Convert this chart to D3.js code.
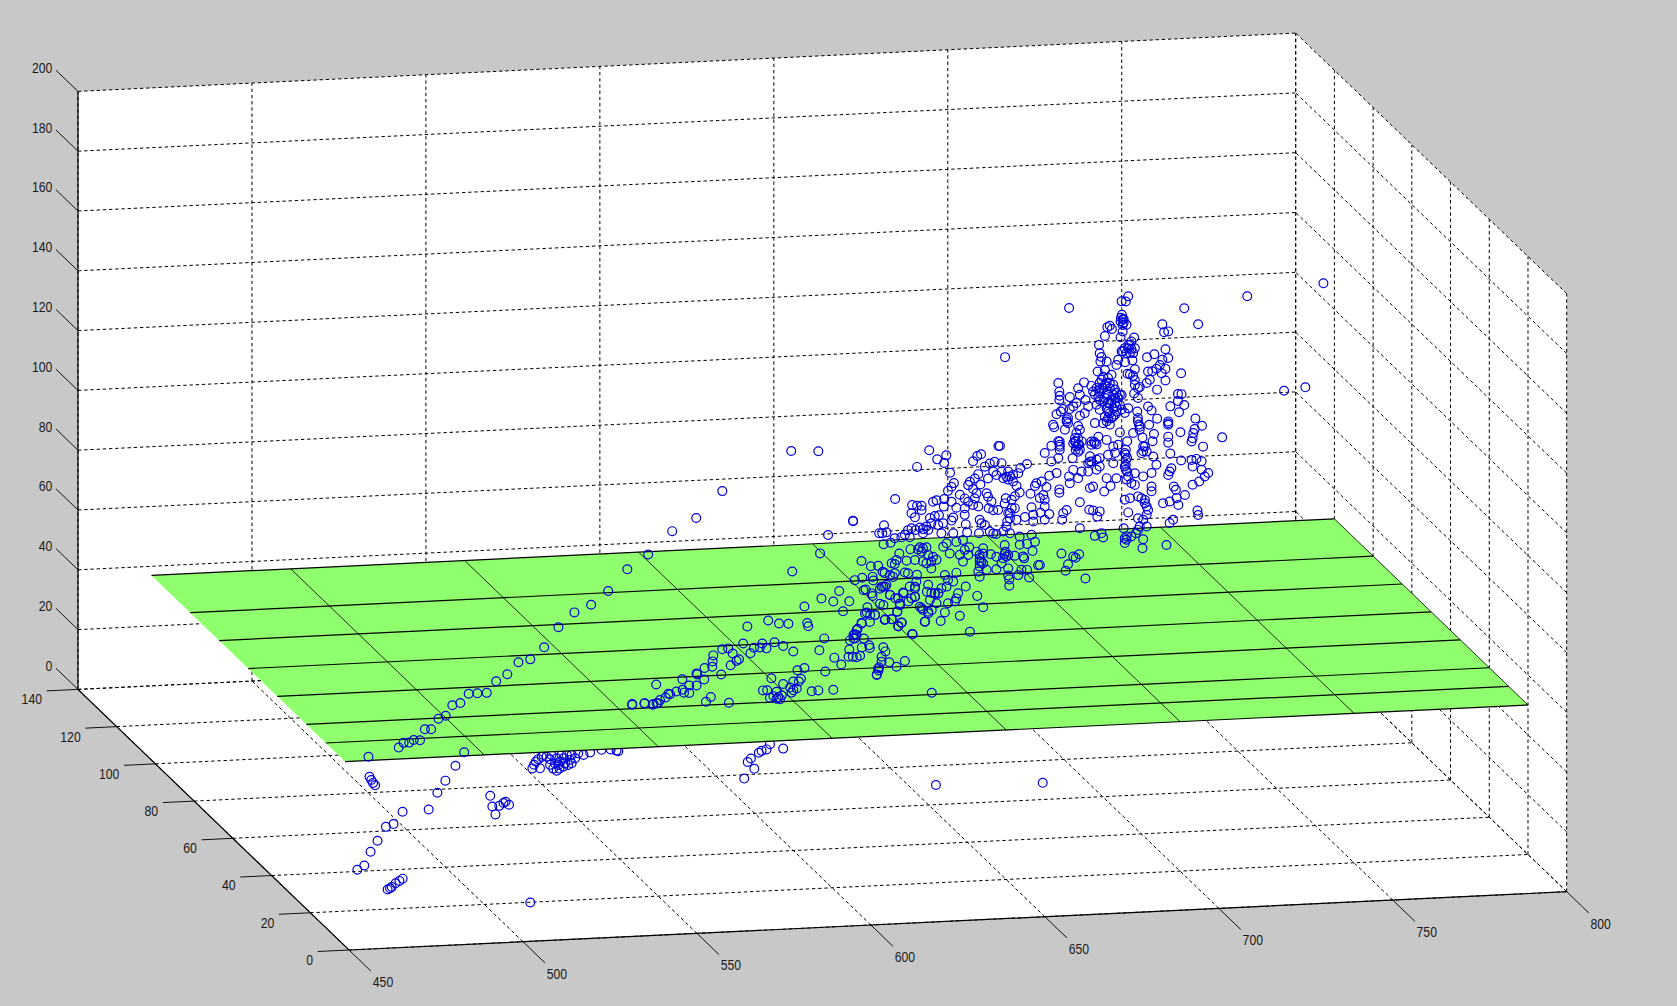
<!DOCTYPE html>
<html>
<head>
<meta charset="utf-8">
<title>scatter3</title>
<script src="https://d3js.org/d3.v7.min.js"></script>
<style>
    html, body { margin: 0; padding: 0; background: #c8c8c8; overflow: hidden; }
    svg { display: block; }
    text { font-family: "Liberation Sans", sans-serif; font-size: 15px; fill: #1a1a1a; }
</style>
</head>
<body>
<div id="chart"></div>
<script>
// axis ticks
const xTicks = [450, 500, 550, 600, 650, 700, 750, 800];
const yTicks = [0, 20, 40, 60, 80, 100, 120, 140];
const zTicks = [0, 20, 40, 60, 80, 100, 120, 140, 160, 180, 200];

// green plane
const planeZ = 50;
const planeXs = [460, 500, 550, 600, 650, 700, 750, 800];
const planeYs = [20, 30, 40, 55, 70, 85, 100, 120];

// depth the scatter is read at (the picture only gives two of the three values)
const lowerDepth = 0;
const cloudDepth = 20;

// [x, z] under the plane
const hiddenSidePoints = [
    [455.9,57.6],[456.4,56.5],[456.9,55.5],[457.5,54.7],[480.6,59.9],[477.7,55.1],[475.4,51.2],[472.9,45.7],
    [465.4,45.4],[462.8,41.4],[460.6,40.6],[458.2,36.1],[456.2,32.5],[454.4,28],[452.4,26.7],[490.6,49.3],
    [491.2,45.7],[492.1,43],[493.2,45.8],[494.4,46.7],[495,47.1],[496,46],[465.4,23],[464.5,22.3],[463.4,21.6],
    [462.3,20.4],[461.8,20],[461.1,19.6],[502.1,13],[502.7,57.8],[503.2,59],[503.7,60],[504.4,60.8],[505.4,61.5],
    [504.9,57.7],[507.8,58.7],[508.7,57.4],[509.7,56.6],[510.5,57.3],[509.2,59.1],[510.6,59.6],[512.1,59],[513,58.4],
    [514,58.9],[511.6,60.7],[509.7,60.8],[507.8,60.6],[506.8,61.5],[515,60.5],[517.4,61.5],[505.9,62.1],[511.1,61.8],
    [512.6,61.7],[514,61.7],[515.9,62.1],[519.3,62.2],[522.6,62.9],[526.9,62.4],[513.5,60],[508.2,62],[510.2,58.5],
    [511.6,57.9],[574.8,60.4],[570,60.4],[568.6,60],[567.8,59.4],[565.5,57.6],[564.6,56.5],[566.5,54.1],[563.6,51],
    [571,62.1],[527.4,62.2],[525.2,62.9],[618.7,45.8],[649.4,44.8]
];

// [x, z] over the plane, lower part of the swarm
const lowerPoints = [
    [536,127.5],[530,122.9],[524.5,115.9],[519.6,111.6],[514.8,109.3],[510.2,104.6],[506.1,98.1],[502.1,94.3],
    [498.7,93.5],[495.5,89.7],[492.3,87.5],[489.6,83.8],[486.9,83.8],[484.4,83.8],[482,80.8],[479.7,80.2],[477.8,76.8],
    [475.7,75.9],[473.6,72.5],[471.8,72.6],[470.4,69],[483.1,64.3],[538.3,83.9],[531.4,77.7],[535,77.8],[537.5,77.4],
    [538.8,77.6],[455.6,64.3],[464.3,66.9],[465.7,68.4],[467.3,68.4],[468.6,69.2],[577.4,119.5],[595.4,115.6],
    [597.5,116.3],[600.5,116.4],[597.3,121.9],[600,120],[590.9,112.2],[585.8,110],[589.2,108.8],[593.8,108.6],
    [598.5,112.3],[600.5,110],[580.9,107.6],[592,105.4],[599,106.3],[598.8,104.6],[601.2,103.6],[570.5,103.5],
    [573.6,102.3],[576.3,102.1],[581.7,102],[582,100.9],[564.5,101.8],[599.7,101.4],[597.3,101.2],[596.2,99.3],
    [595.4,97.5],[595,96.1],[595.9,97.2],[586.6,96.6],[598,95.9],[563.3,96.2],[568.8,95.9],[572.3,96.1],[574.8,94.7],
    [566.4,94.6],[568.1,94.6],[570,94.2],[577.7,92.7],[585.2,92.7],[593.8,92.5],[597.4,93],[599.5,93.6],[599.7,92.7],
    [557.3,94.6],[559,94.8],[560.3,93],[565.4,92.8],[554.7,92.7],[554.5,90.7],[554.4,88.9],[552.2,88.6],[562.1,91],
    [561.4,90.5],[559.7,89.1],[589.5,90],[593.6,90.1],[594.8,90],[595.9,89.8],[596.9,90.2],[591.5,87.6],[578.9,86.4],
    [580.9,87],[586.9,85.5],[601.7,83.7],[602.1,85.7],[549.9,86.9],[550.1,86.6],[557,86.2],[545.8,85.2],[552.1,84.8],
    [571.4,84.1],[579.9,83.5],[579.3,82.6],[577.7,82.7],[574.8,82],[547.8,83],[549.9,82.9],[545.9,81.7],[544.1,81.2],
    [547.8,80.5],[546.3,80.7],[542.3,80.4],[541.8,80.6],[569,80.2],[570.2,80.2],[572.9,79.5],[576.8,80.7],[578.7,80.3],
    [577.7,79.8],[577.2,79],[583,79.1],[584.9,79.3],[589.2,79.3],[539.4,78.6],[541,79.4],[538.4,77.6],[537.3,77.2],
    [534.9,77.7],[531.4,77.5],[554,78.8],[552.6,77.3],[571,77.6],[573.9,77],[572.9,77.2],[573.4,77.7],[572,78.1],
    [574.4,78.2],[559.2,76.6],[601.7,83.5],[602.2,85],[617.5,76.7],[595,97.3],[595.9,98.9],[597.4,101],[598.3,104.3],
    [599.8,103.7],[601.2,103.6],[595.5,96.1],[594,95.6],[603.6,106.8],[602.6,107.3],[604.1,102],[606,101.9],[607.9,99.6],
    [608.9,100.6],[612,96.6],[607.6,104.4],[614.6,105.1],[616.5,103.3],[615.6,100.6],[617.5,104.4],[619.4,109.8],
    [618.4,109.8],[616.1,110.6],[608.4,106.5],[610.8,107.6],[609.4,110.4],[607,108.9],[605.5,110.1],[604.1,113],
    [602.6,112.3],[600.2,110.9],[597.9,112.1],[612.7,109.1],[612.7,112.4],[577.1,159.8],[584.9,159.3],[557.3,147.5],
    [549.8,138.9],[542.9,134.9],[594.9,135.3],[587.7,131.1],[585.4,125.1],[602.1,120],[602.4,130.9],[600.7,115.2]
];

// [x, z] over the plane, the main cloud
const cloudPoints = [
    [741.2,194.3],[736,159.8],[729.9,159],[719.3,191.2],[685.1,193.1],[684.4,191.4],[683.2,191.5],[668.1,190.1],
    [701.2,188.2],[683.3,187],[683.5,185.5],[682.9,184.8],[683.8,184.4],[684.6,183.6],[679.8,183.5],[679.1,183.1],
    [680.4,182.4],[694.9,183.2],[705.2,182.6],[695.4,180.5],[696.6,180.7],[683.5,181.4],[678.4,180.2],[682.9,179.5],
    [686.8,179.2],[686,177.9],[685.1,176.8],[684.1,175.8],[686,175.4],[684.6,174.1],[683.2,174.8],[676.7,177.3],
    [676.9,174.5],[677.4,173.2],[677.1,171.7],[678.9,171.6],[682.2,172],[681.7,170.3],[684.2,171.1],[686.3,171.6],
    [649.7,174.7],[690.5,172.4],[692.6,173.3],[695.8,174.8],[696.6,171.8],[694.9,171.3],[694.2,169.6],[687,168.6],
    [676.3,168.4],[678.4,168.8],[680.3,167.1],[690.8,167.6],[692,167.6],[693.2,168.4],[695.8,168.2],[694.7,166.8],
    [695.8,164.3],[700.3,166.5],[685.6,167],[686.5,166.4],[684.9,167.2],[687,165],[691.3,164.8],[690.4,163.8],
    [687,163.3],[687.9,162.2],[688.4,162.6],[693.4,161.4],[687.9,158.9],[686.8,160.5],
    [677.9,166.6],[679.3,166.1],[676.9,164.5],[678.9,164.4],[680.8,163.7],[676,162.9],[677.9,162.7],[679.8,162.6],
    [681.3,162.1],[675,161.8],[676.9,161.1],[678.9,161],[680.8,160.4],[682.7,160.3],[676.5,160],[678.4,159.4],
    [680.3,158.7],[682.2,159.2],[679.3,157.7],[681.3,157.6],[678.9,156],[680.8,155.9],[682.7,156.9],[679.8,154.3],
    [681.7,154.7],[678.4,153.2],[680.3,152.6],[681.3,153.7],[678.9,151.6],[679.8,150.4],[677.9,151],[684.1,154.1],
    [683.2,155.3],[685.1,155.6],
    [665,165.2],[665.3,162.3],[665.4,160.9],[665.3,159.5],[672.4,165],[670.7,163.1],[671.2,160.9],[674.5,163.7],
    [668.3,160.3],[672.8,159.1],[670.2,158.2],[669.3,157.1],[666.4,156.4],[665.7,155.6],[664.5,154.8],[668.3,156.3],
    [667.4,152.9],[667.8,151.6],[663.5,151.3],[663.8,150.5],[673.6,156.9],[676,157.3],[676.9,155.6],[672.6,154.7],
    [671.2,153.9],[675.5,151.2],[670.7,150.5],[666.9,149.5],[670.2,148.2],[671.2,149.2],[665,145.7],[665.4,144.5],
    [663,144.3],[661.1,142],[665.4,142.8],[665,140.1],[663,139.1],[669.8,146.5],[669.3,144.8],[670.2,143.7],
    [671.7,145.3],[670.7,141.9],[669.1,139.8],[670,145.4],[671,144.2],
    [675.5,144.5],[674.5,144],[676.5,146.6],[678.9,145.4],[682.7,147.7],[686.5,147.3],[689.2,145.6],[684.8,144.6],
    [682.2,143.6],[680.8,143.1],[676.9,139.4],[674.5,138.4],[673.6,137.9],[674.1,140.2],[679.3,140.4],[681.3,140.9],
    [680.8,137.5],[676.9,136.6],[676,135.6],[673.6,135.1],[671.7,135.2],[669.3,135.9],[670.7,133],[668.1,133.8],
    [668.3,131.5],[664.5,135.1],[662.4,134.3],[660.2,132.5],[658.7,132],[658.3,131.1],[661.6,130.6],[665.3,129.6],
    [665.3,128.5],[657,128.6],[660.7,128],[661.1,126.4],[659.7,127],[674.1,129.6],[675,130],[678.2,128.2],[680,129.9],
    [678.9,132.6],[681.7,132.4],
    [684.4,141.8],[684.4,140.1],[684.4,138.4],[684.4,136.8],[684.4,135.1],[685.1,132.8],[686,130.5],[684.6,131.8],
    [687,129.9],[687,133.8],[689.4,132.6],[691.8,133.6],[687.7,154.4],[687.9,152.2],[688.2,150],[688.4,148.3],
    [690.8,155.9],[691.8,154.5],[693.4,151.7],[691.1,149.8],[692.5,146.6],[692.1,144.2],[689.4,142.6],[688.9,140.4],
    [690.4,140.9],[692.3,139.1],[693.2,136.3],[697.2,139.8],
    [697.2,155.6],[699.4,159.6],[700.4,159.5],[699.4,157.3],[701.2,155.8],[699.7,153.5],[696.6,150.6],[696.6,149.5],
    [696.6,145.5],[696.6,143.5],[700.1,146.8],[704.4,151.1],[706.3,148.6],[704.2,147.6],[703.8,146.3],[703.6,144.6],
    [703.3,143.5],[706.6,141.6],[712.1,144.4],[700.3,137.3],[704.7,137.6],[706.2,136.7],[703.3,137.3],[703.6,135.1],
    [706.2,133.9],[708.1,132.7],[707.1,131.6],[705.5,130],[703.6,129],[697.5,134.9],[697,133.8],[696.6,132.7],
    [698.2,128.7],[698.8,127.6],[701.4,125.7],[699,124.8],[697,123.8],[695.1,123.3],[699.5,122.5],[705,120.3],
    [705.2,118.8],[698,117.6],[697,116.6],
    [691.8,129.1],[691.8,127.5],[687.9,126],[688.9,125.3],[689.9,123.6],[690.8,121.3],[690.4,119.7],[684.1,125.1],
    [685.6,125.5],[685.1,120.8],[673.9,122.3],[675,122],[676.9,121.6],[676.2,119.9],[671.2,125],[667.4,122.6],
    [666.4,121.6],[666.1,119.4],[671.2,116.3],[687.9,118.7],[689.4,118.1],[688.4,115.9],[690.4,115.8],[687.3,113.7],
    [686,112.7],[684.6,111.7],[684.1,110.6],[677.4,114.3],[675.5,113.5],[677.9,112.8],[689.4,111.6],[683.8,115.6],
    [696.1,109.3],[689.2,108.6],
    [656,138.6],[654.1,137.4],[653.5,135.7],[652,135.2],[650.6,136.4],[648.7,139.3],[648.7,136.5],[649.2,134.2],
    [650.6,133.7],[652,133],[653,131.4],[653.9,129.2],[652.5,128],[651.6,126.9],[649.9,127.5],[649.6,125.8],[651.6,124.1],
    [652.5,124],[650.6,122.5],[651.1,120.7],[650.3,119.7],[655.4,120.9],[657.3,124.1],[657.8,121.5],[659.9,122.1],
    [661.1,124.1],[662.4,121.5],[661.1,119.7],[657.8,119.3],[653,120.1],[650.1,118],[649.2,116.4],[651.1,115.7],
    [653.9,114.5],[656,111.9],[657.3,114.9],[658.3,112.5],[653.9,111.7],[649.6,111.9],[648.2,145.1],
    [627.9,144.8],[630.2,141.6],[632.8,142.8],[632.2,140.3],[624.4,139.4],[633.9,136.9],[647.8,145.1],[642.8,142.6],
    [641.7,142.1],[640.5,140.4],[618.1,129],[606,122.4],[614.9,120.4],[614.4,117.8],[615.6,118],[635,133.4],[634.3,132.2],
    [633.3,130.9],[636.7,129.4],[630,127.9],[629,127.5],[632.2,128.2],[634.3,127.2],[635.7,125.1],[632.1,125.7],[623,126.7],
    [624.4,126.4],[625.7,126.3],[625.7,124.9],[623.8,122.6],[622.8,124],[628.1,122.1],[629.5,122.7],[630.7,122.9],
    [628.5,120.3],[627.1,119.3],[626.1,118.5],[625.2,119.1],[624,118.3],[622.8,119],[621.8,118.4],[620.9,116.9],[619.9,116.1],
    [622.3,116],[626.1,117.1],[627.6,118.1],[634.8,121.9],[634.3,120.9],[631.9,120.1],[630.5,119.6],[634.8,116.6],
    [631.4,116.8],[638.4,119.4],[638.1,122.6],[638.8,116.7],[642.2,116.2],
    [639.1,132.5],[639.6,133.6],[641,134.6],[642,136],[643.9,138.4],[645.3,139.4],[646.7,139.9],[646.3,136.6],[647.2,135.4],
    [644.8,134.4],[642.6,132.5],[640.5,131.1],[641.5,129.6],[644.4,129.5],[644.8,128.3],[645.8,126.6],[645,124.4],[646.3,123.7],
    [640.5,125.8],[639.1,126.9],[638.1,128.1],[638.1,124.8],[641,127.9],[642,125.2],[642.9,119.5],[643.9,118.9],[642.4,120.7],
    [647.7,123.7],[646.3,115.9],[645.3,116.6],[647.2,115.7],
    [614.8,114.1],[616.8,114.5],[618,115.9],[622.5,112],[619.3,110.7],[625.2,112.5],[626.1,112.1],[627.1,112.4],[624.7,111.8],
    [625.7,111],[627.6,109.8],[629,109.1],[630,108],[628.5,107.5],[627.1,107],[628.5,105.2],[626.1,107.7],[623.8,108.3],
    [621.4,108.2],[618.5,108.6],[618,107.3],[617.1,107.6],[614.5,104.9],[615.1,104.4],[616.6,103.7],[618,104.2],[617.5,103],
    [620.9,104.3],[621.8,104],[624.4,103.3],[624.2,101.1],[623.8,98.8],[622.3,99.5],[620.4,97.6],[616.6,97],[614.7,99.9],
    [615.6,100.5],[614.2,99.9],[619,95.8],[619.4,94],[622.8,95.6],[623.8,96],[625.2,92.6],[626.1,91.5],[627.6,90.8],[628.1,94.7],
    [629.5,96.9],[630.5,96.8],[628.5,97],[627.6,99.8],[630,93.5],[632.4,102.8],[633.3,101.1],[634.8,100.5],[635.7,103.4],
    [632.9,98.9],[631.4,98.4],[636.2,96.5],[635.7,94.8],[635.3,93.8],[633.3,93.3],[632.4,90.3],[631.2,87.5],[626.6,87.5],
    [636.7,88.9],[638.4,98.6],[641.7,95.3],[643.4,91.4],[639.6,83.4],[623,83.6],[619.9,87.6],[619,86.3],[617.1,88.9],[615.1,88.7],
    [618.7,91.3],[620.9,74.7],[618.5,72.9],[616.4,74.5],[614.7,79.6],[615.3,78.2],[614.2,76.5],[614.2,74.8],[613.5,73],
    [632.9,113.4],[631.9,112.3],[633.8,109.9],[635.7,113.7],[637.6,114.2],[636.7,109.3],[638.1,110.9],[639.4,111.7],[637.6,107],
    [639.1,109.1],[641.5,110.1],[643.4,111.1],[642.4,109],[642.4,107.9],[642.9,106.7],[642.4,105.1],[642,103.4],[642.4,101.7],
    [644.4,103.9],[643.4,109.4],[645.6,109],[647.2,108.1],[647.2,103.9],[649.8,109.6],[650.1,107.9],[649.1,107.5],[648.7,105.8],
    [650.6,104],[650.6,101.6],[650.9,100.3],[650.9,98.2],[653.5,101.6],[654.4,103.3],[652.5,108.1],[654.9,107.7],[655.2,107.1],
    [657.6,109.4],[656,103.2],[656.6,100.6],[659.2,104.6],[659.7,104.6],[665.9,108.1],[669.3,106.9],[671,107.6],[670,106.5],
    [667.8,104.4],[667.1,102.3],[672.8,99.4],[649.6,108.9],[650.6,108.5],[642.4,106.8],[643.4,106.1],
    // tighter knots of the cloud
    [677.4,165.6],[678.4,163.9],[679.8,164.3],[676.9,162.3],[675.5,160.7],[679.3,160.5],[681.7,160.9],[677.9,158.3],
    [681.3,159.2],[679.8,157.5],[681.7,156.4],[679.3,154.9],[680.8,153.1],[679.3,152.6],[676.9,158.9],[683.2,160.2],
    [685.1,175.7],[685.6,176.8],[687,175.6],[683.6,174.7],[685.6,174.1],[686.5,174],[683,186],[683.8,185.5],[683.5,183.6],
    [669.8,145.4],[670.7,146.4],[670,142.6],[671.2,142.5],[670.7,144.2],[684.1,140.7],[684.8,139],[684.1,136.2],[684.8,134.5],
    [675.3,145],[676,144],[674.5,145.1],[667.4,152.2],[667.8,153.3],[687.9,151.1],[688.4,149.3],[689.4,141],[689.9,142.6],
    [696.6,150],[690.4,122.5],[689.9,124.7],[687.9,114.8],[684.6,112.8],[684.1,112.2],[665.4,145.6],[665.4,143.9],
    [650.1,134.7],[651.1,134.7],[651.1,122.5],[674.1,138.4],[676,139]
];

let width = 1677, height = 1006;

// orthographic view: each data axis adds its own screen offset to the corner of x=450, y=0, z=0
let originX = 349, originY = 950;
let xAcross = d3.scaleLinear().domain([450, 800]).range([0, 1217.7]);
let xDown = d3.scaleLinear().domain([450, 800]).range([0, -58.3]);
let yAcross = d3.scaleLinear().domain([0, 140]).range([0, -271]);
let yDown = d3.scaleLinear().domain([0, 140]).range([0, -260.6]);
let zDown = d3.scaleLinear().domain([0, 200]).range([0, -598]);

function project(x, y, z) {
    return [originX + xAcross(x) + yAcross(y), originY + xDown(x) + yDown(y) + zDown(z)];
}

let line = d3.line();

let svg = d3.select("#chart").append("svg")
    .attr("width", width)
    .attr("height", height);

let xMin = xTicks[0], xMax = xTicks[xTicks.length - 1];
let yMin = yTicks[0], yMax = yTicks[yTicks.length - 1];
let zMin = zTicks[0], zMax = zTicks[zTicks.length - 1];

// white box
svg.append("path")
    .attr("d", line([
        project(xMin, yMax, zMax), project(xMax, yMax, zMax), project(xMax, yMin, zMax),
        project(xMax, yMin, zMin), project(xMin, yMin, zMin), project(xMin, yMax, zMin)
    ]) + "Z")
    .attr("fill", "white");

// dashed grid on the back wall, right wall and floor
let gridSegments = [];
xTicks.forEach(x => {
    gridSegments.push([project(x, yMax, zMin), project(x, yMax, zMax)]);
    gridSegments.push([project(x, yMin, zMin), project(x, yMax, zMin)]);
});
yTicks.forEach(y => {
    gridSegments.push([project(xMax, y, zMin), project(xMax, y, zMax)]);
    gridSegments.push([project(xMin, y, zMin), project(xMax, y, zMin)]);
});
zTicks.forEach(z => {
    gridSegments.push([project(xMin, yMax, z), project(xMax, yMax, z)]);
    gridSegments.push([project(xMax, yMin, z), project(xMax, yMax, z)]);
});

svg.append("g").selectAll("path")
    .data(gridSegments)
    .enter()
    .append("path")
    .attr("d", d => line(d))
    .attr("fill", "none")
    .attr("stroke", "black")
    .attr("stroke-width", 1)
    .attr("stroke-dasharray", "3.4 2.8");

function drawPoints(points, depth) {
    svg.append("g").selectAll("circle")
        .data(points)
        .enter()
        .append("circle")
        .attr("cx", d => project(d[0], depth, d[1])[0])
        .attr("cy", d => project(d[0], depth, d[1])[1])
        .attr("r", 4.4)
        .attr("fill", "none")
        .attr("stroke", "#0000dc")
        .attr("stroke-width", 1.2);
}

drawPoints(hiddenSidePoints, lowerDepth);

// plane
let planeX0 = planeXs[0], planeX1 = planeXs[planeXs.length - 1];
let planeY0 = planeYs[0], planeY1 = planeYs[planeYs.length - 1];
svg.append("path")
    .attr("d", line([
        project(planeX0, planeY0, planeZ), project(planeX1, planeY0, planeZ),
        project(planeX1, planeY1, planeZ), project(planeX0, planeY1, planeZ)
    ]) + "Z")
    .attr("fill", "#8fff6e");

svg.append("g").selectAll("path")
    .data(planeXs.slice(1))
    .enter()
    .append("path")
    .attr("d", d => line([project(d, planeY0, planeZ), project(d, planeY1, planeZ)]))
    .attr("stroke", "#111")
    .attr("stroke-width", 0.9);

svg.append("g").selectAll("path")
    .data(planeYs)
    .enter()
    .append("path")
    .attr("d", d => line([project(planeX0, d, planeZ), project(planeX1, d, planeZ)]))
    .attr("stroke", "black")
    .attr("stroke-width", 1.2);

drawPoints(lowerPoints, lowerDepth);
drawPoints(cloudPoints, cloudDepth);

// solid axes
svg.append("path")
    .attr("d", line([project(xMin, yMax, zMax), project(xMin, yMax, zMin), project(xMin, yMin, zMin), project(xMax, yMin, zMin)]))
    .attr("fill", "none")
    .attr("stroke", "black")
    .attr("stroke-width", 1.2);

// ticks and labels
let tickLayer = svg.append("g");

function addTick(from, to, labelX, labelY, label, anchor) {
    tickLayer.append("path")
        .attr("d", line([from, to]))
        .attr("stroke", "#111")
        .attr("stroke-width", 1);
    tickLayer.append("text")
        .attr("x", labelX)
        .attr("y", labelY)
        .attr("dy", "0.36em")
        .attr("text-anchor", anchor)
        .attr("textLength", String(label).length * 6.8)
        .attr("lengthAdjust", "spacingAndGlyphs")
        .text(label);
}

xTicks.forEach(x => {
    let p = project(x, yMin, zMin);
    let q = project(x, yMin - 11.4, zMin);
    addTick(p, q, p[0] + 34, p[1] + 31.5, x, "middle");
});
yTicks.forEach(y => {
    let p = project(xMin, y, zMin);
    let q = project(xMin - 9, y, zMin);
    addTick(p, q, p[0] - 36, p[1] + 9.5, y, "end");
});
zTicks.forEach(z => {
    let p = project(xMin, yMax, z);
    let q = project(xMin, yMax + 11.4, z);
    addTick(p, q, p[0] - 25.6, p[1] - 24, z, "end");
});
</script>
</body>
</html>
